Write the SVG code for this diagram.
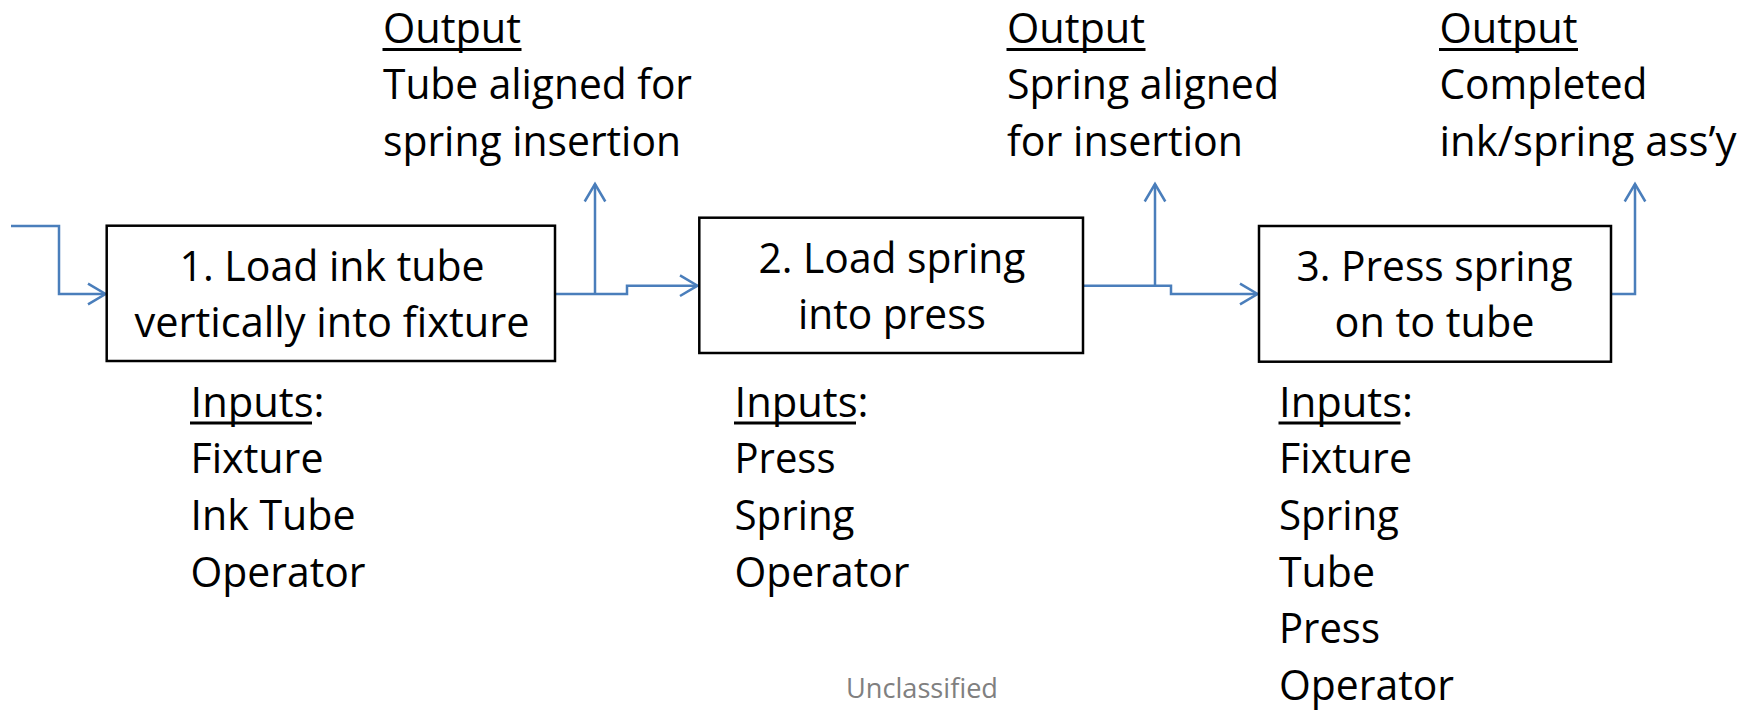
<svg xmlns="http://www.w3.org/2000/svg" width="1748" height="710" viewBox="0 0 1748 710">
  <style>
    .box { fill: #ffffff; stroke: #000000; stroke-width: 2.5; }
    .t { font-family: "Open Sans", "Noto Sans", "Liberation Sans", sans-serif; font-size: 41.5px; fill: #000000; }
    .mid { text-anchor: middle; }
    .ul { fill: #000000; }
    .wire { fill: none; stroke: #4A7EBB; stroke-width: 2.5; stroke-linejoin: miter; }
    .note { font-family: "Open Sans", "Noto Sans", "Liberation Sans", sans-serif; font-size: 28px; fill: #808080; }
  </style>
  <defs>
    <marker id="head" markerUnits="userSpaceOnUse" markerWidth="24" markerHeight="26" refX="17.5" refY="10.3" orient="auto" overflow="visible">
      <path d="M0,0 L17.5,10.3 L0,20.6" fill="none" stroke="#4A7EBB" stroke-width="2.5"/>
    </marker>
  </defs>

  <rect width="1748" height="710" fill="#ffffff"/>

  <!-- connectors -->
  <g id="connectors">
    <path class="wire" d="M11,226 H59 V294 H105.5" marker-end="url(#head)"/>
    <path class="wire" d="M555,294 H627 V285.7 H697.5" marker-end="url(#head)"/>
    <path class="wire" d="M595,294 V184" marker-end="url(#head)"/>
    <path class="wire" d="M1083,285.7 H1171 V294 H1257.5" marker-end="url(#head)"/>
    <path class="wire" d="M1155,285.7 V184" marker-end="url(#head)"/>
    <path class="wire" d="M1611,294 H1635 V184" marker-end="url(#head)"/>
  </g>

  <!-- process steps -->
  <g id="step1">
    <rect class="box" x="106.7" y="225.7" width="448.3" height="135.3"/>
    <text class="t mid" x="332" y="281" textLength="305" lengthAdjust="spacingAndGlyphs">1. Load ink tube</text>
    <text class="t mid" x="332" y="337" textLength="395" lengthAdjust="spacingAndGlyphs">vertically into fixture</text>
  </g>
  <g id="step2">
    <rect class="box" x="699.3" y="217.7" width="383.7" height="135.3"/>
    <text class="t mid" x="892" y="272.5" textLength="267" lengthAdjust="spacingAndGlyphs">2. Load spring</text>
    <text class="t mid" x="892" y="328.5" textLength="188" lengthAdjust="spacingAndGlyphs">into press</text>
  </g>
  <g id="step3">
    <rect class="box" x="1259" y="226" width="352" height="135.7"/>
    <text class="t mid" x="1434.5" y="281" textLength="276" lengthAdjust="spacingAndGlyphs">3. Press spring</text>
    <text class="t mid" x="1434.5" y="337" textLength="200" lengthAdjust="spacingAndGlyphs">on to tube</text>
  </g>

  <!-- outputs -->
  <g id="output1">
    <text class="t" x="383" y="42.5" textLength="138" lengthAdjust="spacingAndGlyphs">Output</text>
    <rect class="ul" x="382.5" y="48" width="139" height="3"/>
    <text class="t" x="383" y="99.2" textLength="309" lengthAdjust="spacingAndGlyphs">Tube aligned for</text>
    <text class="t" x="383" y="155.9" textLength="298" lengthAdjust="spacingAndGlyphs">spring insertion</text>
  </g>
  <g id="output2">
    <text class="t" x="1007" y="42.5" textLength="138" lengthAdjust="spacingAndGlyphs">Output</text>
    <rect class="ul" x="1006.5" y="48" width="139" height="3"/>
    <text class="t" x="1007" y="99.2" textLength="272" lengthAdjust="spacingAndGlyphs">Spring aligned</text>
    <text class="t" x="1007" y="155.9" textLength="236" lengthAdjust="spacingAndGlyphs">for insertion</text>
  </g>
  <g id="output3">
    <text class="t" x="1439.5" y="42.5" textLength="138" lengthAdjust="spacingAndGlyphs">Output</text>
    <rect class="ul" x="1439" y="48" width="139" height="3"/>
    <text class="t" x="1439.5" y="99.2" textLength="208" lengthAdjust="spacingAndGlyphs">Completed</text>
    <text class="t" x="1439.5" y="155.9" textLength="297" lengthAdjust="spacingAndGlyphs">ink/spring ass’y</text>
  </g>

  <!-- inputs -->
  <g id="inputs1">
    <text class="t" x="190.5" y="416.5" textLength="134" lengthAdjust="spacingAndGlyphs">Inputs:</text>
    <rect class="ul" x="190" y="421.5" width="122" height="3"/>
    <text class="t" x="190.5" y="473.2" textLength="133" lengthAdjust="spacingAndGlyphs">Fixture</text>
    <text class="t" x="190.5" y="529.9" textLength="165" lengthAdjust="spacingAndGlyphs">Ink Tube</text>
    <text class="t" x="190.5" y="586.6" textLength="175" lengthAdjust="spacingAndGlyphs">Operator</text>
  </g>
  <g id="inputs2">
    <text class="t" x="734.5" y="416.5" textLength="134" lengthAdjust="spacingAndGlyphs">Inputs:</text>
    <rect class="ul" x="734" y="421.5" width="122" height="3"/>
    <text class="t" x="734.5" y="473.2" textLength="101" lengthAdjust="spacingAndGlyphs">Press</text>
    <text class="t" x="734.5" y="529.9" textLength="120" lengthAdjust="spacingAndGlyphs">Spring</text>
    <text class="t" x="734.5" y="586.6" textLength="175" lengthAdjust="spacingAndGlyphs">Operator</text>
  </g>
  <g id="inputs3">
    <text class="t" x="1279" y="416.5" textLength="134" lengthAdjust="spacingAndGlyphs">Inputs:</text>
    <rect class="ul" x="1278.5" y="421.5" width="122" height="3"/>
    <text class="t" x="1279" y="473.2" textLength="133" lengthAdjust="spacingAndGlyphs">Fixture</text>
    <text class="t" x="1279" y="529.9" textLength="120" lengthAdjust="spacingAndGlyphs">Spring</text>
    <text class="t" x="1279" y="586.6" textLength="96" lengthAdjust="spacingAndGlyphs">Tube</text>
    <text class="t" x="1279" y="643.3" textLength="101" lengthAdjust="spacingAndGlyphs">Press</text>
    <text class="t" x="1279" y="700" textLength="175" lengthAdjust="spacingAndGlyphs">Operator</text>
  </g>

  <!-- classification marking -->
  <g id="marking">
    <text class="note" x="846" y="698" textLength="152" lengthAdjust="spacingAndGlyphs">Unclassified</text>
  </g>
</svg>
